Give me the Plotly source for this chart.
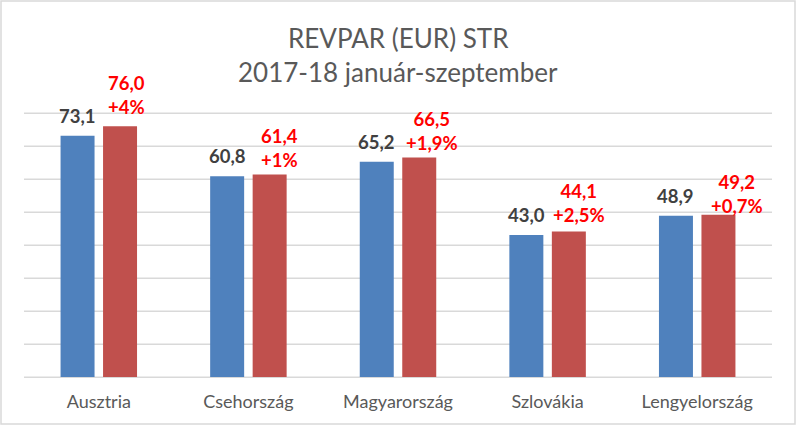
import plotly.graph_objects as go

categories = ["Ausztria", "Csehország", "Magyarország", "Szlovákia", "Lengyelország"]
revpar_2017 = [73.1, 60.8, 65.2, 43.0, 48.9]
revpar_2018 = [76.0, 61.4, 66.5, 44.1, 49.2]
change_labels = ["+4%", "+1%", "+1,9%", "+2,5%", "+0,7%"]
series_names = ["2017", "2018"]
grid_values = [0, 10, 20, 30, 40, 50, 60, 70, 80]

# label nudges (px), style only
red_dx = [6, 10, 13, 10, 19]
red_dy = [19, 14, 15, 16, 9]

FONT = "Lato"
BLUE = "#4F81BD"
RED = "#C0504D"
GRID = "#D9D9D9"

bargap = 0.432
bargroupgap = 0.2
off = (1 - bargap) / 4.0

def fmt(v):
    return f"{v:.1f}".replace(".", ",")

fig = go.Figure()
fig.add_trace(go.Bar(x=categories, y=revpar_2017, name=series_names[0],
                     marker=dict(color=BLUE, line=dict(width=0))))
fig.add_trace(go.Bar(x=categories, y=revpar_2018, name=series_names[1],
                     marker=dict(color=RED, line=dict(width=0))))

ann = []
for i, (a, b) in enumerate(zip(revpar_2017, revpar_2018)):
    ann.append(dict(x=i - off, y=a, xref="x", yref="y", text=fmt(a), showarrow=False,
                    yanchor="middle", yshift=20,
                    font=dict(family=FONT, size=18.5, color="#404040", weight="bold")))
    ann.append(dict(x=i + off, y=b, xref="x", yref="y", text=fmt(b) + "<br>" + change_labels[i],
                    showarrow=False, yanchor="middle", xshift=red_dx[i], yshift=red_dy[i] + 12,
                    font=dict(family=FONT, size=18.5, color="#FF0000", weight="bold")))

L, R, T, B = 24, 24, 100, 49
W, H = 796, 426
pw, ph = W - L - R, H - T - B
ymax = ph / 3.3

def px_x(p):
    return (p - L) / pw

def px_y(p):
    return (H - B - p) / ph

ann.append(dict(x=0.5, y=px_y(38), xref="paper", yref="paper", showarrow=False,
                text="REVPAR (EUR) STR", yanchor="middle",
                font=dict(family=FONT, size=26, color="#595959")))
ann.append(dict(x=0.5, y=px_y(72), xref="paper", yref="paper", showarrow=False,
                text="2017-18 január-szeptember", yanchor="middle",
                font=dict(family=FONT, size=26, color="#595959")))

shapes = [dict(type="rect", xref="paper", yref="paper",
               x0=px_x(1), x1=px_x(795), y0=px_y(424), y1=px_y(1),
               line=dict(color=GRID, width=1.5))]
for g in grid_values:
    shapes.append(dict(type="line", xref="paper", yref="y", x0=0, x1=1, y0=g, y1=g,
                       line=dict(color=GRID, width=1), layer="below"))

fig.update_layout(
    width=W, height=H,
    margin=dict(l=L, r=R, t=T, b=B),
    paper_bgcolor="white", plot_bgcolor="white",
    barmode="group", bargap=bargap, bargroupgap=bargroupgap,
    showlegend=False,
    annotations=ann,
    shapes=shapes,
    xaxis=dict(showgrid=False, showline=False, ticks="", zeroline=False,
               ticklabelstandoff=12, automargin=False,
               tickfont=dict(family=FONT, size=18, color="#595959")),
    yaxis=dict(range=[0, ymax], tickvals=grid_values, automargin=False,
               showgrid=True, gridcolor=GRID, gridwidth=1,
               showticklabels=False,
               zeroline=True, zerolinecolor=GRID, zerolinewidth=1, showline=False),
)

fig.write_html("out.html")
